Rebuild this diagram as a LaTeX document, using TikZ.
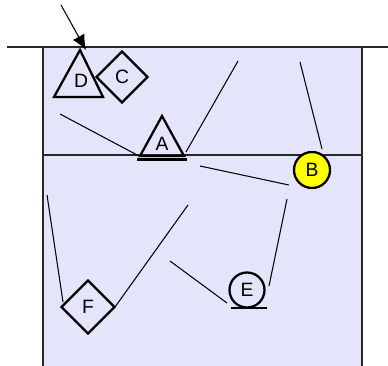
\documentclass[tikz,border=0pt]{standalone}
\usepackage{fontspec}
\setmainfont{Liberation Sans}
\usetikzlibrary{arrows.meta,shapes.geometric}
\definecolor{poolfill}{RGB}{228,228,250}
\definecolor{poolline}{RGB}{40,40,40}
\definecolor{chipyellow}{RGB}{255,255,0}

\begin{document}
\begin{tikzpicture}[
    x=0.02cm, y=-0.02cm,
    font=\fontsize{11}{13}\selectfont,
    border/.style={draw=poolline, line width=0.9pt},
    piece/.style={draw=black, line width=1.3pt, line join=miter},
    diamondbox/.style={piece, diamond, aspect=1, inner sep=0pt, minimum width=1.04cm, minimum height=1.04cm},
    roundbox/.style={piece, circle, inner sep=0pt, minimum size=0.72cm},
    tag/.style={inner sep=0pt},
    wire/.style={draw=black, line width=0.6pt},
    arrow/.style={-{Latex[length=3mm, width=2.6mm]}, draw=black, line width=0.6pt}
  ]
    \useasboundingbox (0,0) rectangle (388,365);
    % pool
    \fill[poolfill] (43,48) rectangle (362,368);
    \draw[border] (43,48) -- (43,368);
    \draw[border] (362,48) -- (362,368);
    \draw[border] (7,47) -- (390,47);
    \draw[border] (43,155) -- (362,155);

    % pieces
    \node[tag] (D) at (81,81) {D};
    \draw[piece] (80,50) -- (103,97) -- (54,97) -- cycle;
    \node[diamondbox] (C) at (122,77) {C};
    \node[tag] (A) at (162,144) {A};
    \draw[piece] (162,116) -- (184,156) -- (140,156) -- cycle;
    \draw[piece] (137,159.5) -- (187,159.5);
    \node[roundbox, fill=chipyellow] (B) at (312,170) {B};
    \node[roundbox, minimum size=0.7cm] (E) at (247,290) {E};
    \draw[piece] (231,308) -- (267,308);
    \node[diamondbox, minimum width=1.08cm, minimum height=1.08cm] (F) at (88,307) {F};

    % incoming arrow
    \coordinate (in) at (61,5);
    \coordinate (dtop) at (86,50);
    \draw[arrow] (in) -- (dtop);

    % loose lines
    \coordinate (l1a) at (60,114);  \coordinate (l1b) at (139,156);
    \coordinate (l2a) at (186,152); \coordinate (l2b) at (238,61);
    \coordinate (l3a) at (300,62);  \coordinate (l3b) at (322,149);
    \coordinate (l4a) at (200,166); \coordinate (l4b) at (289,185);
    \coordinate (l5a) at (287,199); \coordinate (l5b) at (269,286);
    \coordinate (l6a) at (47,195);  \coordinate (l6b) at (63,302);
    \coordinate (l7a) at (188,205); \coordinate (l7b) at (115,307);
    \coordinate (l8a) at (170,261); \coordinate (l8b) at (227,303);
    \foreach \i in {1,...,8}
      \draw[wire] (l\i a) -- (l\i b);
  \end{tikzpicture}
\end{document}
